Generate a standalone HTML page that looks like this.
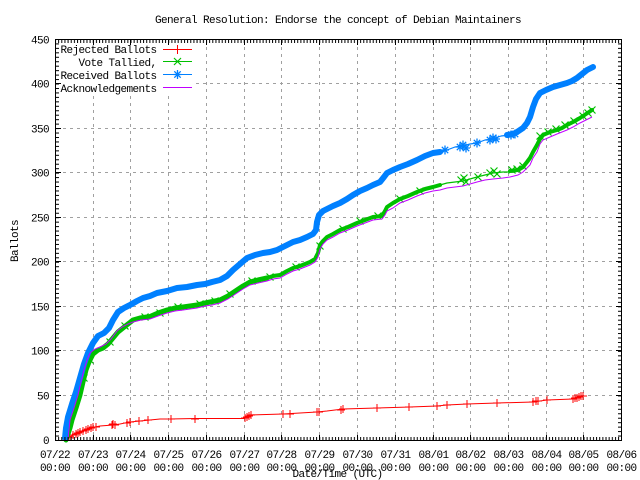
<!DOCTYPE html>
<html><head><meta charset="utf-8"><style>
html,body{margin:0;padding:0;background:#fff;}
svg{display:block;}
text{font-family:"Liberation Mono",monospace;font-size:11px;letter-spacing:-0.6px;fill:#000;}
</style></head><body>
<svg width="640" height="480" viewBox="0 0 640 480" xmlns="http://www.w3.org/2000/svg">
<defs>
<pattern id="mx" x="55" y="0" width="3.1458" height="10" patternUnits="userSpaceOnUse"><rect x="0" y="0" width="1" height="10" fill="#000"/></pattern>
<pattern id="my" x="0" y="440" width="10" height="4.456" patternUnits="userSpaceOnUse"><rect x="0" y="0" width="10" height="1" fill="#000"/></pattern>
<path id="p" d="M-4,0H4M0,-4V4" stroke="#ff0000" stroke-width="1" fill="none"/>
<path id="x" d="M-3.5,-3.5L3.5,3.5M-3.5,3.5L3.5,-3.5" stroke="#00c000" stroke-width="1.2" fill="none"/>
<path id="s" d="M0,-4.5V4.5M-4,0H4M-3.2,-3.2L3.2,3.2M-3.2,3.2L3.2,-3.2" stroke="#0080ff" stroke-width="1.3" fill="none"/>
</defs>
<rect width="640" height="480" fill="#fff"/>

<!-- grid -->
<g stroke="#a0a0a0" stroke-width="1" stroke-dasharray="3,4" fill="none">
<path d="M56,395.5H621M56,350.5H621M56,306.5H621M56,261.5H621M56,217.5H621M56,172.5H621M56,128.5H621M56,83.5H621"/>
<path d="M93.5,40V440M130.5,40V440M168.5,40V440M206.5,40V440M244.5,40V440M281.5,40V440M319.5,40V440M357.5,40V440M395.5,40V440M433.5,40V440M470.5,40V440M508.5,40V440M546.5,40V440M583.5,40V440"/>
</g>

<!-- legend background -->
<rect x="56" y="40" width="138" height="53" fill="#fff"/>

<!-- red: rejected -->
<polyline fill="none" stroke="#ff0000" stroke-width="1" points="70,437 75,434 80,432 85,430 90,428 95,427 100,426 113,425 120,424 130,422 140,421 150,420 160,419 170,419 195,418.5 245,418.5 248,415 283,414 300,413 317,412 327,411 343,409 377,408 410,407 437,406 447,405 467,404 497,403 533,402 547,400 573,399 580,397 583,396"/>
<g>
<use href="#p" x="70" y="437"/><use href="#p" x="73" y="435"/><use href="#p" x="76" y="434"/><use href="#p" x="78" y="433"/><use href="#p" x="80" y="432"/><use href="#p" x="83" y="431"/><use href="#p" x="86" y="430"/><use href="#p" x="88" y="429"/><use href="#p" x="91" y="428"/><use href="#p" x="93" y="427"/><use href="#p" x="96" y="427"/><use href="#p" x="112" y="425"/><use href="#p" x="113" y="424"/><use href="#p" x="115" y="425"/><use href="#p" x="127" y="423"/><use href="#p" x="130" y="422"/><use href="#p" x="139" y="421"/><use href="#p" x="148" y="420"/><use href="#p" x="171" y="419"/><use href="#p" x="195" y="419"/><use href="#p" x="245" y="418"/><use href="#p" x="247" y="417"/><use href="#p" x="249" y="416"/><use href="#p" x="251" y="415"/><use href="#p" x="283" y="414"/><use href="#p" x="290" y="414"/><use href="#p" x="317" y="412"/><use href="#p" x="319" y="412"/><use href="#p" x="341" y="410"/><use href="#p" x="343" y="409"/><use href="#p" x="377" y="408"/><use href="#p" x="409" y="407"/><use href="#p" x="437" y="406"/><use href="#p" x="447" y="405"/><use href="#p" x="467" y="404"/><use href="#p" x="497" y="403"/><use href="#p" x="533" y="402"/><use href="#p" x="536" y="401"/><use href="#p" x="538" y="401"/><use href="#p" x="547" y="400"/><use href="#p" x="573" y="399"/><use href="#p" x="575" y="398"/><use href="#p" x="577" y="398"/><use href="#p" x="579" y="397"/><use href="#p" x="581" y="396"/><use href="#p" x="583" y="396"/>
</g>

<!-- green: vote tallied -->
<g fill="none" stroke="#00c000" stroke-linejoin="round" stroke-linecap="round">
<polyline stroke-width="5" points="66,440 70,428 72,420 76,408 80,395 83,382 86,370 89,362 93,354 98,350 103,348 108,344 113,338 118,332 123,328 128,324 133,320 140,318 150,316.5 158,313 167,310 175,308 183,307 190,306 197,305 205,303 210,302 220,300 228,296 237,290 243,286 250,282 258,280 267,278"/>
<polyline stroke-width="4" points="267,278 273,276 280,275 287,271 293,268 300,266 310,262 315,259 318,253 320,245 323,241 327,237 333,234 340,230 348,227 357,223 365,220 373,217 382,216 385,211 387,207 393,203 400,199 408,196 417,192 425,189 433,187 440,185"/>
<polyline stroke-width="1.2" points="440,185 447,183 455,182 463,181 470,179 477,177 485,175 493,173 503,172 513,172"/>
<polyline stroke-width="4" points="510,171 518,170 523,167 527,162 530,158 533,152 537,145 540,139 543,135 550,132 557,130 562,128 567,125 573,122 580,118 586,114 592,110"/>
</g>
<g>
<use href="#x" x="461" y="180"/><use href="#x" x="464" y="178"/><use href="#x" x="466" y="182"/><use href="#x" x="478" y="177"/><use href="#x" x="490" y="173"/><use href="#x" x="494" y="171"/><use href="#x" x="497" y="174"/><use href="#x" x="512" y="170"/><use href="#x" x="517" y="169"/><use href="#x" x="523" y="166"/>
<use href="#x" x="540" y="136"/><use href="#x" x="548" y="132"/><use href="#x" x="556" y="129"/><use href="#x" x="565" y="125"/><use href="#x" x="574" y="121"/><use href="#x" x="583" y="116"/><use href="#x" x="592" y="110"/><use href="#x" x="588" y="113"/>
<use href="#x" x="343" y="229"/><use href="#x" x="360" y="221"/><use href="#x" x="378" y="216"/><use href="#x" x="296" y="267"/><use href="#x" x="252" y="281"/><use href="#x" x="230" y="294"/><use href="#x" x="200" y="304"/><use href="#x" x="178" y="307"/><use href="#x" x="145" y="317"/><use href="#x" x="125" y="326"/>
<use href="#x" x="90" y="360"/><use href="#x" x="84" y="378"/><use href="#x" x="110" y="342"/><use href="#x" x="160" y="313"/><use href="#x" x="215" y="301"/><use href="#x" x="270" y="277"/><use href="#x" x="320" y="246"/><use href="#x" x="400" y="199"/><use href="#x" x="420" y="191"/>
</g>

<!-- blue: received -->
<g fill="none" stroke="#0080ff" stroke-linejoin="round" stroke-linecap="round">
<polyline stroke-width="6" points="65,438 66,428 68,417 72,404 76,392 80,378 84,364 88,353 93,343 98,336 104,333 109,328 113,320 118,312 124,308 130,305 137,301 143,298 150,296 157,293 167,291 177,288 187,287 197,285 205,284 212,282 220,280 227,276 233,270 240,264 247,258 255,255 263,253 270,252 277,250 285,246 293,242 300,240 307,237 313,234 316,230 317,222 319,215 323,211 327,209 333,206 340,203 347,199 353,195 360,191 367,188 373,185 380,182 384,177 387,173 393,170 400,167 408,164 417,160 425,156 433,153 440,152"/>
<polyline stroke-width="1.2" points="440,152 447,150 455,147 463,146 470,144 477,143 485,140 493,139 501,136 510,135"/>
<polyline stroke-width="6" points="507,135 513,134 517,132 523,128 527,123 530,117 533,107 536,99 540,93 546,90 553,87 560,85 567,83 572,81 577,78 582,74 587,70 593,67"/>
</g>
<g>
<use href="#s" x="445" y="150"/><use href="#s" x="460" y="147"/><use href="#s" x="463" y="145"/><use href="#s" x="466" y="148"/><use href="#s" x="477" y="143"/><use href="#s" x="490" y="140"/><use href="#s" x="493" y="138"/><use href="#s" x="496" y="139"/><use href="#s" x="511" y="135"/><use href="#s" x="515" y="134"/>
</g>

<!-- purple: acknowledgements -->
<polyline fill="none" stroke="#c000ff" stroke-width="1" points="68,440 69,430 70,420 74,408 78,395 81,382 84,370 87,360 90,353 95,349 100,347 106,344 111,339 117,331 122,327 128,324 133,322 141,320 150,319 158,316 167,313 175,311 183,310 190,309 197,308 205,306 212,305 220,303 228,299 237,293 243,289 250,285 258,283 267,281 273,279 280,278 287,274 293,271 300,269 310,265 315,262 318,257 320,249 323,244 327,240 333,237 340,233 348,230 357,226 365,223 373,220 382,219 385,215 387,211 393,208 400,203 408,200 417,196 425,193 433,191 440,190 447,188 455,187 463,186 470,184 477,182 485,180 493,179 503,178 510,177 518,175 523,172 527,168 530,165 533,158 537,152 540,144 543,140 550,137 557,134 562,132 567,130 573,127 580,123 586,120 592,117"/>

<!-- border -->
<rect x="55.5" y="39.5" width="566" height="401" fill="none" stroke="#000" stroke-width="1"/>

<!-- minor ticks -->
<rect x="55" y="437" width="567" height="3" fill="url(#mx)"/>
<rect x="55" y="40" width="567" height="3" fill="url(#mx)"/>
<rect x="56" y="40" width="3" height="400.5" fill="url(#my)"/>
<rect x="618" y="40" width="3" height="400.5" fill="url(#my)"/>

<!-- major ticks -->
<g stroke="#000" stroke-width="1" fill="none">
<path d="M56,395.5h5M56,350.5h5M56,306.5h5M56,261.5h5M56,217.5h5M56,172.5h5M56,128.5h5M56,83.5h5M56,39.5h5M56,440.5h5"/>
<path d="M621,395.5h-5M621,350.5h-5M621,306.5h-5M621,261.5h-5M621,217.5h-5M621,172.5h-5M621,128.5h-5M621,83.5h-5"/>
<path d="M93.5,440v-5M130.5,440v-5M168.5,440v-5M206.5,440v-5M244.5,440v-5M281.5,440v-5M319.5,440v-5M357.5,440v-5M395.5,440v-5M433.5,440v-5M470.5,440v-5M508.5,440v-5M546.5,440v-5M583.5,440v-5"/>
<path d="M93.5,40v5M130.5,40v5M168.5,40v5M206.5,40v5M244.5,40v5M281.5,40v5M319.5,40v5M357.5,40v5M395.5,40v5M433.5,40v5M470.5,40v5M508.5,40v5M546.5,40v5M583.5,40v5"/>
</g>

<!-- title -->
<text x="338" y="23" text-anchor="middle">General Resolution: Endorse the concept of Debian Maintainers</text>

<!-- y labels -->
<g text-anchor="end">
<text x="49" y="444">0</text>
<text x="49" y="399.5">50</text>
<text x="49" y="354.5">100</text>
<text x="49" y="310.5">150</text>
<text x="49" y="265.5">200</text>
<text x="49" y="221.5">250</text>
<text x="49" y="176.5">300</text>
<text x="49" y="132.5">350</text>
<text x="49" y="87.5">400</text>
<text x="49" y="43.5">450</text>
</g>
<text transform="translate(18,241) rotate(-90)" text-anchor="middle">Ballots</text>

<!-- x labels -->
<g text-anchor="middle">
<text x="55" y="458">07/22</text><text x="55" y="471">00:00</text>
<text x="93" y="458">07/23</text><text x="93" y="471">00:00</text>
<text x="130.5" y="458">07/24</text><text x="130.5" y="471">00:00</text>
<text x="168.5" y="458">07/25</text><text x="168.5" y="471">00:00</text>
<text x="206.5" y="458">07/26</text><text x="206.5" y="471">00:00</text>
<text x="244.5" y="458">07/27</text><text x="244.5" y="471">00:00</text>
<text x="281.5" y="458">07/28</text><text x="281.5" y="471">00:00</text>
<text x="319.5" y="458">07/29</text><text x="319.5" y="471">00:00</text>
<text x="357.5" y="458">07/30</text><text x="357.5" y="471">00:00</text>
<text x="395.5" y="458">07/31</text><text x="395.5" y="471">00:00</text>
<text x="433.5" y="458">08/01</text><text x="433.5" y="471">00:00</text>
<text x="470.5" y="458">08/02</text><text x="470.5" y="471">00:00</text>
<text x="508.5" y="458">08/03</text><text x="508.5" y="471">00:00</text>
<text x="546.5" y="458">08/04</text><text x="546.5" y="471">00:00</text>
<text x="583.5" y="458">08/05</text><text x="583.5" y="471">00:00</text>
<text x="621.5" y="458">08/06</text><text x="621.5" y="471">00:00</text>
</g>
<text x="337.5" y="477" text-anchor="middle">Date/Time (UTC)</text>

<!-- legend -->
<g text-anchor="end">
<text x="156.5" y="53">Rejected Ballots</text>
<text x="156.5" y="66">Vote Tallied,</text>
<text x="156.5" y="79">Received Ballots</text>
<text x="156.5" y="92">Acknowledgements</text>
</g>
<rect x="163" y="49" width="29" height="1" style="fill:#ff0000"/>
<rect x="163" y="61" width="29" height="1" style="fill:#00c000"/>
<rect x="163" y="74" width="29" height="1" style="fill:#0080ff"/>
<rect x="163" y="87" width="29" height="1" style="fill:#c000ff"/>
<rect x="177" y="45" width="1" height="9" style="fill:#ff0000"/>
<path d="M174,58L181,65M174,65L181,58" style="stroke:#00c000;stroke-width:1.2;fill:none"/>
<path d="M177.5,70V79M173.5,74.5H181.5M174.3,71.3L180.7,77.7M174.3,77.7L180.7,71.3" style="stroke:#0080ff;stroke-width:1.3;fill:none"/>
</svg>
</body></html>
